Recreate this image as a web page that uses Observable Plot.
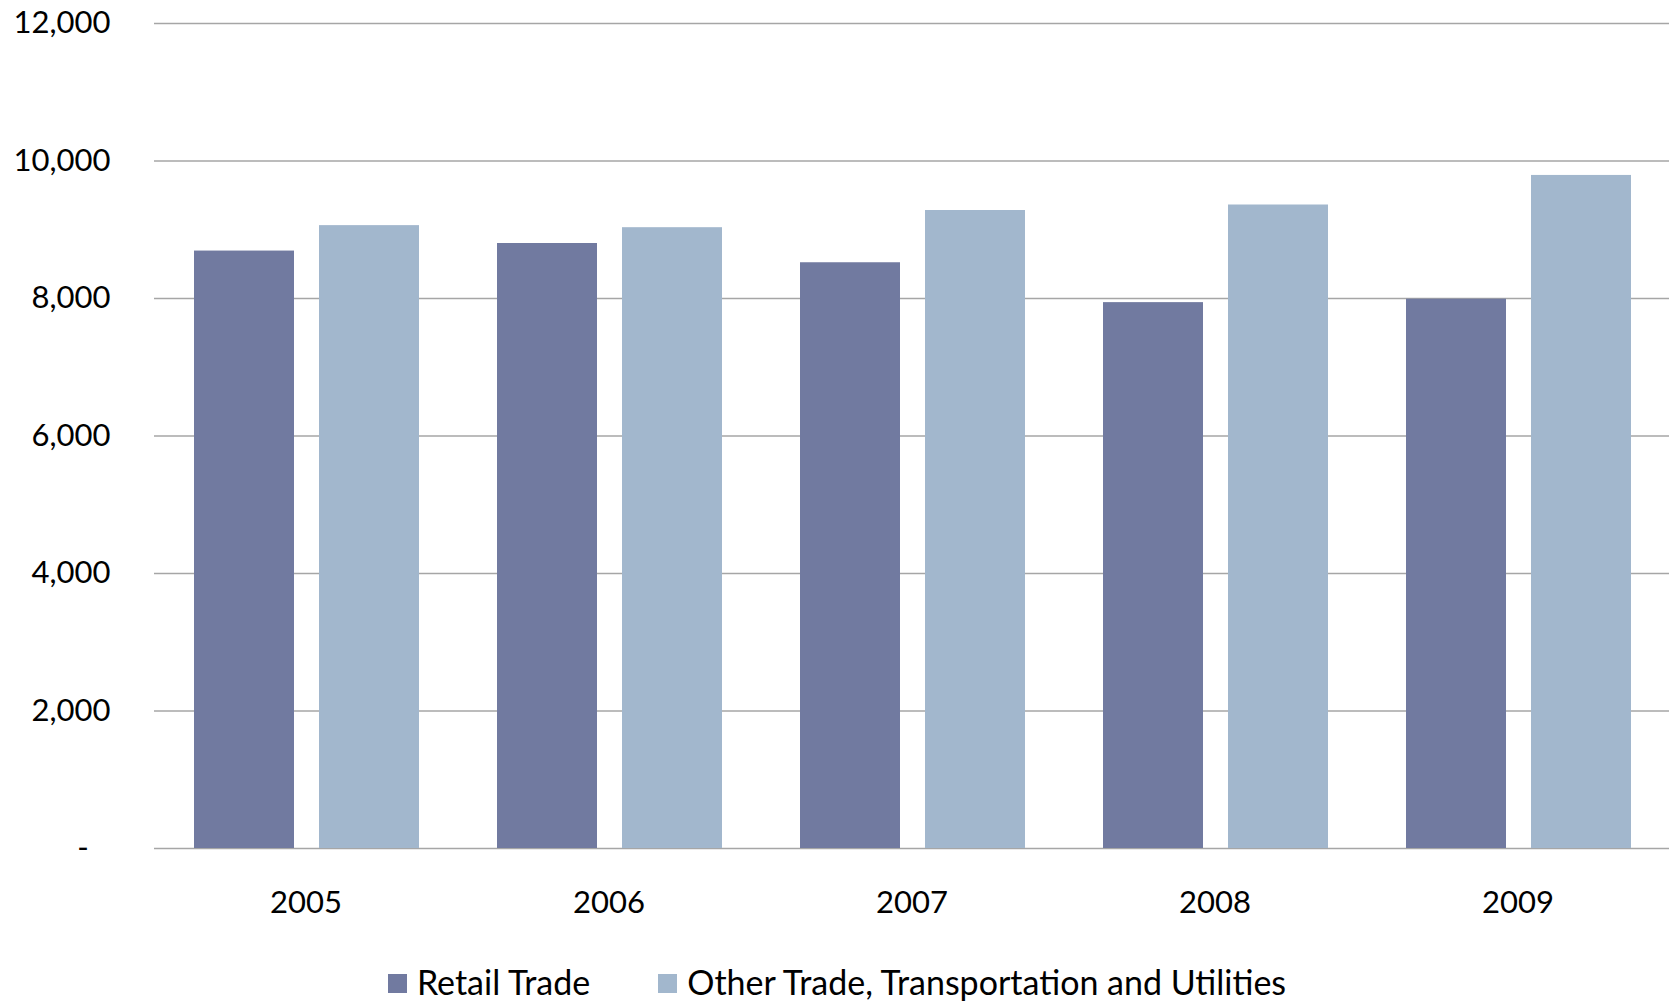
<!DOCTYPE html>
<html>
<head>
<meta charset="utf-8">
<script src="https://cdn.jsdelivr.net/npm/d3@7"></script>
<script src="https://cdn.jsdelivr.net/npm/@observablehq/plot@0.6"></script>
<style>
  html, body { margin: 0; padding: 0; background: #fff; }
  body { width: 1674px; height: 1002px; overflow: hidden; font-family: Lato, "Open Sans", sans-serif; }
  #chart svg text { font-family: Lato, "Open Sans", sans-serif; font-size: 31px; fill: #000; }
  .legend { display: flex; justify-content: center; align-items: center; height: 46px; font-size: 34px; color: #000; }
  .legend .item { display: flex; align-items: center; margin: 0 34px; }
  .legend .sw { width: 19px; height: 19px; margin-right: 10px; margin-top: 5px; }
</style>
</head>
<body>
<div id="chart"></div>
<div class="legend" id="legend"></div>
<script>
const years = ["2005", "2006", "2007", "2008", "2009"];
const seriesNames = ["Retail Trade", "Other Trade, Transportation and Utilities"];
const retail = [8690, 8800, 8520, 7940, 7990];
const other = [9060, 9030, 9280, 9360, 9790];
const colors = ["#717aa0", "#a2b7cd"];
const yTicks = [0, 2000, 4000, 6000, 8000, 10000, 12000];

const retailData = years.map((y, i) => ({year: y, series: seriesNames[0], value: retail[i]}));
const otherData = years.map((y, i) => ({year: y, series: seriesNames[1], value: other[i]}));

const fmt = d3.format(",");
const chart = Plot.plot({
  width: 1674,
  height: 958,
  marginLeft: 154,
  marginRight: 5,
  marginTop: 23,
  marginBottom: 110,
  style: {background: "#fff", color: "#000", fontFamily: "Lato, sans-serif", fontSize: "31px"},
  x: {domain: years, padding: 0, label: null, tickSize: 0, tickPadding: 42},
  y: {domain: [0, 12000], ticks: yTicks, label: null, tickSize: 0, tickPadding: 44,
      tickFormat: d => d === 0 ? "-\u2007\u2009" : fmt(d)},
  marks: [
    Plot.ruleY(yTicks, {stroke: "#a6a6a6", strokeWidth: 1.5}),
    Plot.barY(retailData, {x: "year", y: "value", fill: colors[0], insetLeft: 40, insetRight: 163}),
    Plot.barY(otherData, {x: "year", y: "value", fill: colors[1], insetLeft: 165, insetRight: 38})
  ]
});
document.getElementById("chart").appendChild(chart);

const legend = document.getElementById("legend");
seriesNames.forEach((name, i) => {
  const item = document.createElement("div");
  item.className = "item";
  const sw = document.createElement("div");
  sw.className = "sw";
  sw.style.background = colors[i];
  const label = document.createElement("span");
  label.textContent = name;
  item.appendChild(sw);
  item.appendChild(label);
  legend.appendChild(item);
});
</script>
</body>
</html>
